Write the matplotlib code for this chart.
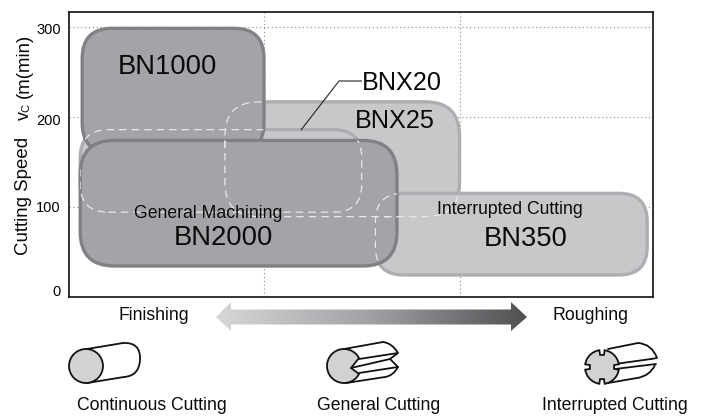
import numpy as np
import matplotlib
matplotlib.use('Agg')
import matplotlib.pyplot as plt
from matplotlib.patches import FancyBboxPatch, Polygon, Ellipse, PathPatch
from matplotlib.path import Path
from matplotlib.transforms import ScaledTranslation

plt.rcParams['font.family'] = ['Liberation Sans', 'DejaVu Sans']

# grades: cutting condition range (x, 0 = finishing .. 3 = roughing) and speed range
bn1000_x = [0.07, 1.0]
bn1000_v = [160, 299]
bnx25_x = [0.80, 2.0]
bnx25_v = [89, 217]
bnx20_x = [0.06, 1.50]
bnx20_v = [94, 186]
bn350_x = [1.57, 2.96]
bn350_v = [24, 115]
bn2000_x = [0.06, 1.68]
bn2000_v = [34, 174]

yticks = [0, 100, 200, 300]
xgrid = [1, 2]

DARK = '#a3a4a7'
DARK_EDGE = '#808184'
LIGHT = '#c7c8ca'
LIGHT_EDGE = '#adaeb1'
DASH = '#e8e8e8'

fig = plt.figure(figsize=(7.04, 4.16), dpi=100)
W, H = 704.0, 416.0
ax = fig.add_axes([68.5 / W, 1 - 296.5 / H, 584.5 / W, 284.5 / H])
ax.set_xlim(0, 584.5 / 195.5)
ax.set_ylim(0, 284.5 / 0.897)
PX_X = 195.5
PX_Y = 0.897

ax.set_yticks(yticks)
ax.set_yticklabels([str(v) for v in yticks], fontsize=10.5)
ax.set_xticks(xgrid)
ax.set_xticklabels([])
ax.tick_params(length=0, pad=5.5)
ax.grid(True, color='#8a8a8a', linestyle=(0, (1, 2.5)), linewidth=0.8)
ax.set_axisbelow(True)
for s in ax.spines.values():
    s.set_linewidth(1.2)
    s.set_color('#111111')
    s.set_zorder(20)
# the picture's tick labels do not sit quite on their grid lines
label_shift = [5.5, 0.5, -2, -1]
for lab, dy in zip(ax.get_yticklabels(), label_shift):
    lab.set_transform(lab.get_transform() + ScaledTranslation(0, dy / 100, fig.dpi_scale_trans))


def grade(xr, vr, fc, ec, radius, z):
    # rounded box, radius in pixels
    p = FancyBboxPatch((xr[0], vr[0]), xr[1] - xr[0], vr[1] - vr[0],
                       boxstyle='round,pad=0,rounding_size=%f' % (radius / PX_X),
                       mutation_aspect=PX_X / PX_Y, facecolor=fc, edgecolor=ec,
                       linewidth=2.4, zorder=z)
    ax.add_patch(p)
    return p


p_bnx25 = grade(bnx25_x, bnx25_v, LIGHT, LIGHT_EDGE, 34, 2)
p_bnx20 = grade(bnx20_x, bnx20_v, LIGHT, LIGHT_EDGE, 28, 3)
p_bn350 = grade(bn350_x, bn350_v, LIGHT, LIGHT_EDGE, 28, 4)
p_bn1000 = grade(bn1000_x, bn1000_v, DARK, DARK_EDGE, 30, 5)
p_bn2000 = grade(bn2000_x, bn2000_v, DARK, DARK_EDGE, 34, 6)


def hidden_edge(xr, vr, radius, clips):
    # white dashed outline, shown only where it runs over another grade
    for c in clips:
        d = FancyBboxPatch((xr[0], vr[0]), xr[1] - xr[0], vr[1] - vr[0],
                           boxstyle='round,pad=0,rounding_size=%f' % (radius / PX_X),
                           mutation_aspect=PX_X / PX_Y, facecolor='none', edgecolor=DASH,
                           linewidth=0.9, linestyle=(0, (6, 4)), zorder=8)
        ax.add_patch(d)
        d.set_clip_path(c)


hidden_edge(bnx25_x, bnx25_v, 34, [p_bn1000, p_bn2000, p_bn350])
hidden_edge(bnx20_x, bnx20_v, 28, [p_bn1000, p_bn2000])
hidden_edge(bn350_x, bn350_v, 28, [p_bn2000])

# overlay in pixel coordinates for labels, arrow and icons
ov = fig.add_axes([0, 0, 1, 1], zorder=10)
ov.set_xlim(0, W)
ov.set_ylim(H, 0)
ov.axis('off')
ov.patch.set_alpha(0)

labels = [
    ('BN1000', 167, 67, 19.7), ('BN2000', 223, 238, 19.7), ('BNX25', 395, 121, 18.2),
    ('BNX20', 402, 82.5, 18.2), ('BN350', 526, 239, 19.7),
    ('General Machining', 208, 213, 12.7), ('Interrupted Cutting', 510, 210, 12.7),
    ('Finishing', 154, 315.5, 12.7), ('Roughing', 590, 315.5, 12.8),
    ('Continuous Cutting', 152, 406, 12.7), ('General Cutting', 379, 406, 12.7),
    ('Interrupted Cutting', 615, 406, 12.7),
]
for t, x, y, fs in labels:
    ov.text(x, y, t, fontsize=fs, ha='center', va='center', color='#0a0a0a')

ov.text(24, 196, 'Cutting Speed', fontsize=13.4, rotation=90, ha='center', va='center', color='#0a0a0a')
ov.text(24, 115, 'v', fontsize=13, rotation=90, ha='center', va='center', color='#0a0a0a')
ov.text(26, 107.5, 'C', fontsize=8, rotation=90, ha='center', va='center', color='#0a0a0a')
ov.text(24, 66, '(m(min)', fontsize=13.4, rotation=90, ha='center', va='center', color='#0a0a0a')

# leader line for BNX20
ov.plot([301, 339, 362], [130, 81, 81], color='#222222', lw=0.8, solid_capstyle='butt', zorder=9)

# gradient arrow
arrow_pts = [(216, 317), (231, 302), (231, 309.5), (511, 309.5), (511, 302), (527, 317),
             (511, 331), (511, 324.5), (231, 324.5), (231, 331)]
arrow = Polygon(arrow_pts, closed=True, facecolor='none', edgecolor='none')
ov.add_patch(arrow)
grad = np.linspace(0, 1, 256).reshape(1, -1)
cm = matplotlib.colors.LinearSegmentedColormap.from_list('g', ['#d6d7d8', '#a0a1a4', '#4f5052'])
im = ov.imshow(grad, extent=(216, 527, 335, 298), cmap=cm, aspect='auto', zorder=3)
im.set_clip_path(arrow)
ov.set_xlim(0, W)
ov.set_ylim(H, 0)

LW = 1.3
ICON = '#111111'


def curve(start, ctrl, end):
    return Path([start, ctrl, end], [Path.MOVETO, Path.CURVE3, Path.CURVE3])


def draw_curve(start, ctrl, end):
    ov.add_patch(PathPatch(curve(start, ctrl, end), fc='none', ec=ICON, lw=LW))


def draw_line(pts):
    ov.plot([p[0] for p in pts], [p[1] for p in pts], color=ICON, lw=LW, solid_capstyle='round')


# continuous cutting icon
draw_line([(87, 349), (123, 343)])
draw_line([(87, 383), (124, 377)])
draw_curve((123, 343), (141, 342), (140, 360))
draw_curve((140, 360), (139, 376), (124, 377))
ov.add_patch(Ellipse((86, 366), 34, 34, fc='#d1d2d4', ec=ICON, lw=LW, zorder=4))

# general cutting icon
theta = np.radians(np.linspace(28, 332, 80))
mouth = [(344 + 17 * np.cos(t), 366 - 17 * np.sin(t)) for t in theta] + [(351, 368)]
ov.add_patch(Polygon(mouth, closed=True, fc='#d1d2d4', ec=ICON, lw=LW, zorder=4))
draw_line([(344, 349), (383, 342)])
draw_curve((383, 342), (392, 343), (398, 353))
draw_line([(359, 359), (398, 353), (390, 359), (351, 368)])
draw_line([(390, 359), (398, 367)])
draw_line([(359, 373), (398, 367)])
draw_curve((398, 367), (393, 376), (385, 377))
draw_line([(346, 383), (385, 377)])

# interrupted cutting icon
cx, cy, r = 602, 367, 17
disc = []
for a in [0, 90, 180, 270]:
    w = np.radians(9)
    arc = np.radians(np.linspace(a + 9, a + 81, 20))
    disc += [(cx + r * np.cos(t), cy - r * np.sin(t)) for t in arc]
    n2 = np.radians(a + 90)
    disc += [(cx + r * np.cos(n2 - w), cy - r * np.sin(n2 - w)),
             (cx + 0.72 * r * np.cos(n2 - w), cy - 0.72 * r * np.sin(n2 - w)),
             (cx + 0.72 * r * np.cos(n2 + w), cy - 0.72 * r * np.sin(n2 + w))]
ov.add_patch(Polygon(disc, closed=True, fc='#d1d2d4', ec=ICON, lw=LW, zorder=4))
draw_line([(608, 349), (638, 343)])
draw_curve((638, 343), (652, 344), (657, 358))
draw_line([(615, 364), (651, 359)])
draw_line([(615, 369), (656, 364)])
draw_line([(651, 359), (657, 358)])
draw_line([(608, 383), (637, 378)])
draw_curve((637, 378), (650, 376), (655, 365))

fig.savefig('out.png', dpi=100)
